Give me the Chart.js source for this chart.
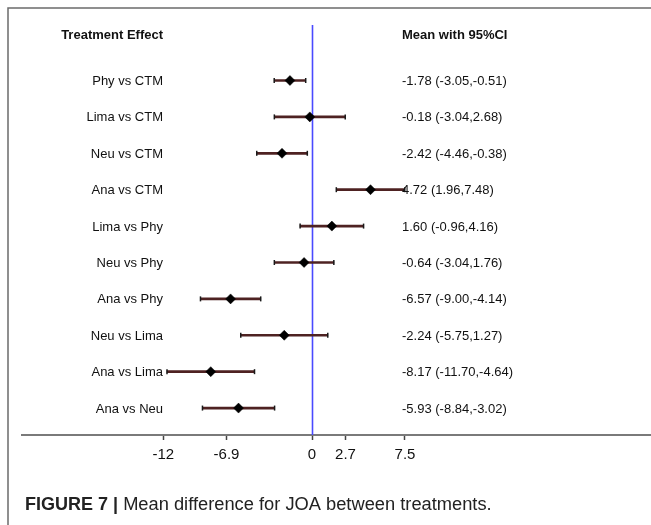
<!DOCTYPE html>
<html>
<head>
<meta charset="utf-8">
<script src="https://cdn.jsdelivr.net/npm/chart.js@4/dist/chart.umd.min.js"></script>
<style>
  html, body { margin: 0; padding: 0; background: #fff; }
  canvas { display: block; }
</style>
</head>
<body>
<canvas id="forest" width="651" height="525"></canvas>
<script>
// Pairwise treatment comparisons (mean difference with 95% CI)
const comparisons = [
  'Phy vs CTM', 'Lima vs CTM', 'Neu vs CTM', 'Ana vs CTM', 'Lima vs Phy',
  'Neu vs Phy', 'Ana vs Phy', 'Neu vs Lima', 'Ana vs Lima', 'Ana vs Neu'
];
const means = [-1.78, -0.18, -2.42, 4.72, 1.60, -0.64, -6.57, -2.24, -8.17, -5.93];
const lower = [-3.05, -3.04, -4.46, 1.96, -0.96, -3.04, -9.00, -5.75, -11.70, -8.84];
const upper = [-0.51, 2.68, -0.38, 7.48, 4.16, 1.76, -4.14, 1.27, -4.64, -3.02];
const tickValues = [-12, -6.9, 0, 2.7, 7.5];
const columnHeaders = ['Treatment Effect', 'Mean with 95%CI'];
const captionBold = 'FIGURE 7 |';
const captionText = ' Mean difference for JOA between treatments.';

const FONT = '"Liberation Sans", Arial, Helvetica, sans-serif';

const rows = comparisons.map((_, i) => i);
const ciData = rows.map(i => ({ x: [lower[i], upper[i]], y: i }));
const capData = rows.flatMap(i => [{ x: lower[i], y: i }, { x: upper[i], y: i }]);
const meanData = rows.map(i => ({ x: means[i], y: i }));
const valueText = rows.map(i =>
  `${means[i].toFixed(2)} (${lower[i].toFixed(2)},${upper[i].toFixed(2)})`);

// Frame, zero reference line, text columns and caption
const forestDecor = {
  id: 'forestDecor',
  beforeDraw(chart) {
    const { ctx, width, height } = chart;
    ctx.save();
    ctx.fillStyle = '#fff';
    ctx.fillRect(0, 0, width, height);
    ctx.strokeStyle = '#6b6b6b';
    ctx.lineWidth = 1.5;
    ctx.beginPath();
    ctx.moveTo(8, height);
    ctx.lineTo(8, 8);
    ctx.lineTo(width, 8);
    ctx.stroke();
    ctx.restore();
  },
  beforeDatasetsDraw(chart) {
    const { ctx, chartArea, scales } = chart;
    const x0 = Math.round(scales.x.getPixelForValue(0)) + 0.5;
    ctx.save();
    ctx.strokeStyle = '#4a4aff';
    ctx.lineWidth = 1.6;
    ctx.beginPath();
    ctx.moveTo(x0, chartArea.top);
    ctx.lineTo(x0, chartArea.bottom);
    ctx.stroke();
    ctx.restore();
  },
  afterDraw(chart) {
    const { ctx, scales } = chart;
    const yS = scales.y;
    const labelRight = 163;
    const valueLeft = 402;
    ctx.save();
    ctx.fillStyle = '#111';
    ctx.textBaseline = 'middle';

    const headY = yS.getPixelForValue(-1.25);
    ctx.font = `bold 13px ${FONT}`;
    ctx.textAlign = 'right';
    ctx.fillText(columnHeaders[0], labelRight, headY);
    ctx.textAlign = 'left';
    ctx.fillText(columnHeaders[1], valueLeft, headY);

    ctx.font = `13px ${FONT}`;
    rows.forEach(i => {
      const y = yS.getPixelForValue(i) + 1;
      ctx.textAlign = 'right';
      ctx.fillText(comparisons[i], labelRight, y);
      ctx.textAlign = 'left';
      ctx.fillText(valueText[i], valueLeft, y);
    });

    ctx.fillStyle = '#222';
    ctx.textAlign = 'left';
    ctx.font = `bold 18px ${FONT}`;
    ctx.fillText(captionBold, 25, 505);
    const w = ctx.measureText(captionBold).width;
    ctx.font = `18.3px ${FONT}`;
    ctx.fillText(captionText, 25 + w, 505);
    ctx.restore();
  }
};

new Chart(document.getElementById('forest'), {
  type: 'scatter',
  data: {
    datasets: [
      {
        type: 'bar',
        indexAxis: 'y',
        data: ciData,
        backgroundColor: '#4e2222',
        borderWidth: 0,
        barThickness: 2,
        order: 3
      },
      {
        data: capData,
        pointStyle: 'line',
        rotation: 90,
        radius: 2.5,
        borderColor: '#1a1a1a',
        borderWidth: 1.5,
        order: 2
      },
      {
        data: meanData,
        pointStyle: 'rectRot',
        radius: 5,
        backgroundColor: '#000',
        borderColor: '#000',
        borderWidth: 0.5,
        order: 1
      }
    ]
  },
  options: {
    responsive: false,
    devicePixelRatio: 1,
    animation: false,
    events: [],
    layout: { autoPadding: false, padding: { left: 22, top: 25, right: 0, bottom: 0 } },
    plugins: { legend: { display: false }, tooltip: { enabled: false } },
    scales: {
      x: {
        type: 'linear',
        min: -23.4,
        max: 27.35,
        offset: false,
        afterBuildTicks(scale) {
          scale.ticks = tickValues.map(v => ({ value: v }));
        },
        afterFit(scale) { scale.height = 90; },
        ticks: {
          autoSkip: false,
          maxRotation: 0,
          padding: 6,
          color: '#111',
          font: { family: FONT, size: 15 },
          callback: v => String(v)
        },
        grid: {
          offset: false,
          drawOnChartArea: false,
          drawTicks: true,
          tickLength: 5,
          tickColor: '#444',
          tickWidth: 1.5
        },
        border: { display: true, color: '#7a7a7a', width: 2 }
      },
      y: {
        type: 'linear',
        display: false,
        offset: false,
        grid: { offset: false },
        reverse: true,
        min: -1.525,
        max: 9.74
      }
    }
  },
  plugins: [forestDecor]
});
</script>
</body>
</html>
